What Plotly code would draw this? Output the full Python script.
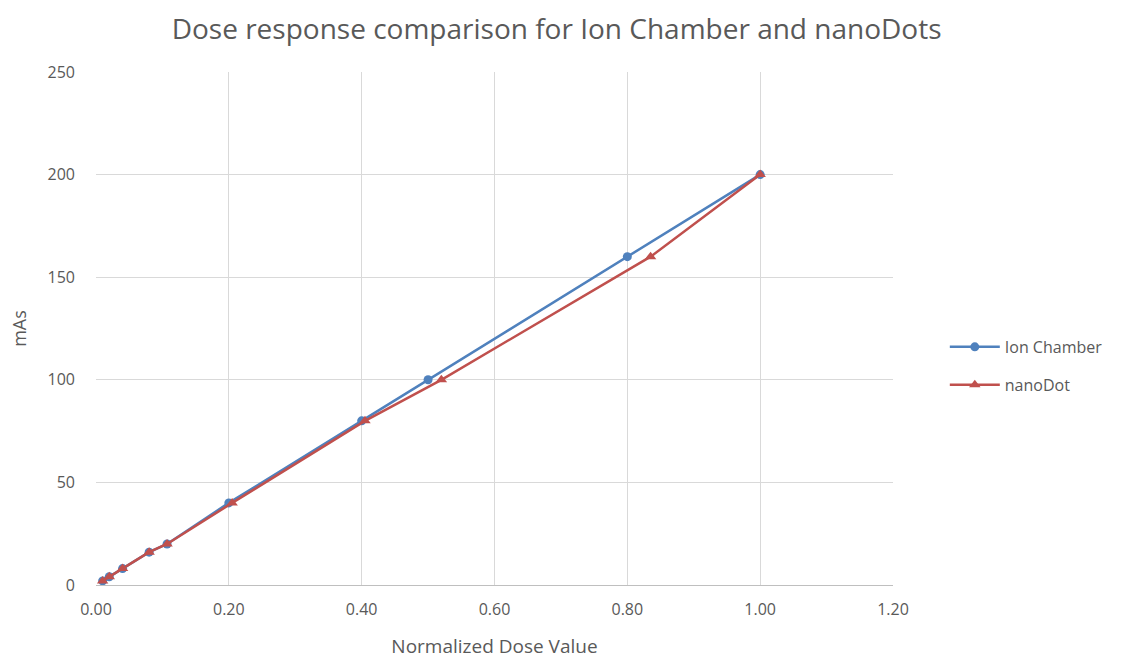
import plotly.graph_objects as go

mas = [2, 4, 8, 16, 20, 40, 80, 100, 160, 200]
ion_chamber = [0.01, 0.02, 0.04, 0.08, 0.107, 0.20, 0.40, 0.50, 0.80, 1.00]
nanodot = [0.01, 0.02, 0.04, 0.08, 0.107, 0.205, 0.405, 0.52, 0.835, 1.00]

fig = go.Figure()
fig.add_trace(go.Scatter(x=ion_chamber, y=mas, name="Ion Chamber", mode="lines+markers",
                         legendgroup="a",
                         line=dict(color="#4F81BD", width=2.5),
                         marker=dict(symbol="circle", size=9, color="#4F81BD")))
fig.add_trace(go.Scatter(x=nanodot, y=mas, name="nanoDot", mode="lines+markers",
                         legendgroup="b",
                         line=dict(color="#C0504D", width=2.5),
                         marker=dict(symbol="triangle-up", size=10, color="#C0504D")))

font = "Open Sans, Liberation Sans, Arial, sans-serif"
fig.update_layout(
    width=1129, height=659,
    paper_bgcolor="white", plot_bgcolor="white",
    margin=dict(l=96, r=236, t=72, b=74),
    title=dict(text="Dose response comparison for Ion Chamber and nanoDots",
               x=0.493, xanchor="center", y=0.955, yanchor="middle",
               font=dict(family=font, size=28, color="#595959")),
    font=dict(family=font, size=16, color="#595959"),
    legend=dict(x=1.065, xanchor="left", y=0.427, yanchor="middle",
                font=dict(size=16, color="#595959"), tracegroupgap=14, itemwidth=50),
    xaxis=dict(range=[0, 1.2], dtick=0.2, tickformat=".2f", showgrid=True,
               gridcolor="#D9D9D9", showline=True, linecolor="#BFBFBF", zeroline=False,
               ticks="", ticklabelstandoff=10, automargin=False,
               title=dict(text="Normalized Dose Value", standoff=20,
                          font=dict(size=19, color="#595959"))),
    yaxis=dict(range=[0, 250], dtick=50, showgrid=True, gridcolor="#D9D9D9",
               showline=False, zeroline=False, ticks="", ticklabelstandoff=20,
               automargin=False,
               title=dict(text="mAs", standoff=16, font=dict(size=18, color="#595959"))),
)
fig.write_html("out.html")
